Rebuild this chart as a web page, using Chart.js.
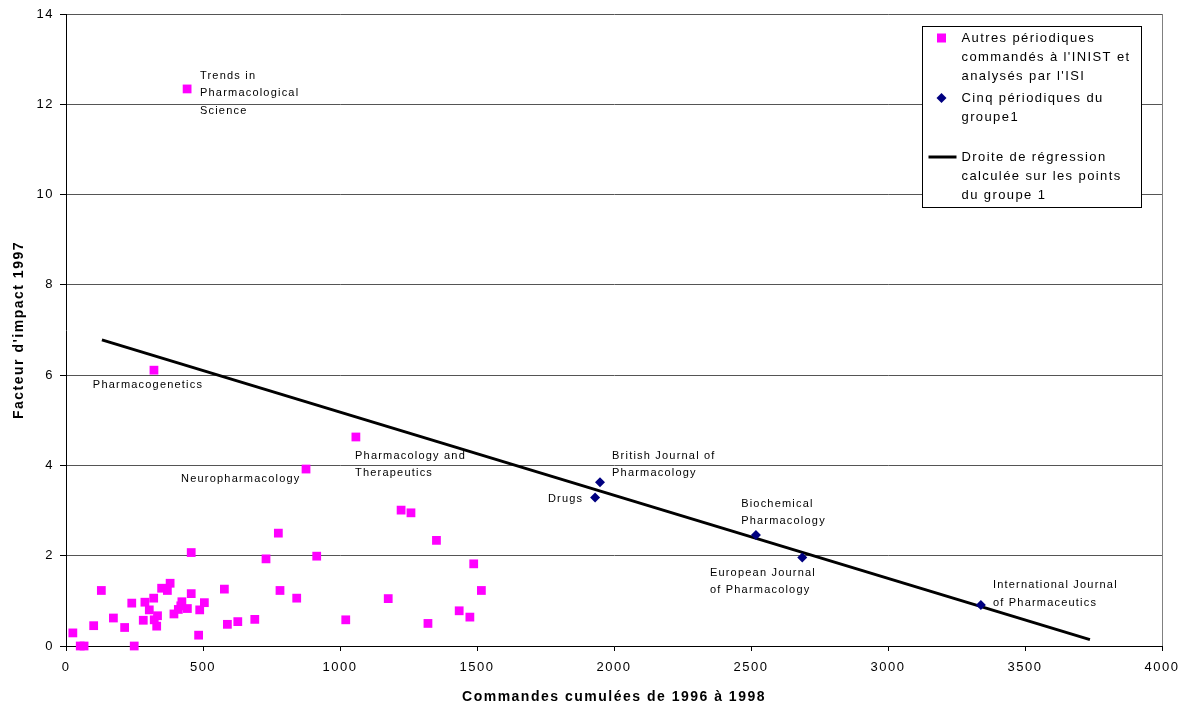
<!DOCTYPE html>
<html>
<head>
<meta charset="utf-8">
<script src="https://cdn.jsdelivr.net/npm/chart.js@4/dist/chart.umd.min.js"></script>
<style>
  html, body { margin: 0; padding: 0; background: #fff; }
  #wrap { width: 1186px; height: 708px; }
</style>
</head>
<body>
<div id="wrap"><canvas id="impactChart" width="1186" height="708"></canvas></div>
<script>
// Autres périodiques commandés à l'INIST et analysés par l'ISI
const autresX = [25, 52, 66, 101, 129, 173, 214, 240, 249, 282, 288, 304, 320, 322, 334, 331,
    349, 370, 380, 394, 410, 423, 419, 443, 457, 457, 488, 484, 505, 578, 589, 627, 689,
    730, 775, 781, 842, 915, 1021, 1176, 1352, 1321, 1435, 1474, 1488, 1516, 1223, 1259,
    321, 442, 1058, 876];
const autresY = [0.29, 0, 0, 0.45, 1.23, 0.62, 0.41, 0.95, 0, 0.57, 0.97, 0.80, 1.06, 0.58, 0.67, 0.44,
    1.28, 1.23, 1.39, 0.71, 0.81, 0.98, 0.89, 0.83, 2.07, 1.16, 0.80, 0.24, 0.96, 1.26, 0.48, 0.54, 0.59,
    1.93, 2.50, 1.23, 1.06, 1.99, 0.58, 1.05, 2.34, 0.50, 0.78, 0.64, 1.82, 1.23, 3.01, 2.95,
    6.11, 12.34, 4.63, 3.92];

// Cinq périodiques du groupe 1
const groupe1Names = ['Drugs', 'British Journal of Pharmacology', 'Biochemical Pharmacology',
    'European Journal of Pharmacology', 'International Journal of Pharmaceutics'];
const groupe1X = [1931, 1949, 2518, 2687, 3339];
const groupe1Y = [3.29, 3.63, 2.46, 1.96, 0.91];

// Droite de régression (groupe 1)
const regX = [131, 3737];
const regY = [6.78, 0.14];

// Text labels placed in data units (first line, left edge)
const pointLabels = [
    { lines: ['Trends in', 'Pharmacological', 'Science'], x: 489, y: 12.63 },
    { lines: ['Pharmacogenetics'], x: 98, y: 5.78 },
    { lines: ['Neuropharmacology'], x: 420, y: 3.71 },
    { lines: ['Pharmacology and', 'Therapeutics'], x: 1055, y: 4.21 },
    { lines: ['British Journal of', 'Pharmacology'], x: 1993, y: 4.21 },
    { lines: ['Drugs'], x: 1759, y: 3.26 },
    { lines: ['Biochemical', 'Pharmacology'], x: 2464, y: 3.15 },
    { lines: ['European Journal', 'of Pharmacology'], x: 2350, y: 1.62 },
    { lines: ['International Journal', 'of Pharmaceutics'], x: 3383, y: 1.35 }
];

const legendItems = [
    { marker: 'rect', color: '#ff00ff', lines: ['Autres périodiques', "commandés à l'INIST et", "analysés par l'ISI"] },
    { marker: 'diamond', color: '#000080', lines: ['Cinq périodiques du', 'groupe1'] },
    { marker: 'line', color: '#000', lines: ['Droite de régression', 'calculée sur les points', 'du groupe 1'] }
];

const FONT = '"Liberation Sans", Arial, sans-serif';
Chart.defaults.font.family = FONT;
Chart.defaults.color = '#000';

// letter spacing for axis text (Excel-like spaced look)
const spacingPlugin = {
    id: 'spacing',
    beforeDraw(chart) { chart.ctx.letterSpacing = '1.5px'; }
};

// point labels and the boxed legend
const overlayPlugin = {
    id: 'overlay',
    afterDatasetsDraw(chart) {
        const ctx = chart.ctx;
        const xs = chart.scales.x, ys = chart.scales.y;
        ctx.save();
        ctx.fillStyle = '#000';
        ctx.textAlign = 'left';
        ctx.textBaseline = 'middle';
        ctx.font = '11px ' + FONT;
        ctx.letterSpacing = '1.2px';
        pointLabels.forEach(lbl => {
            const px = xs.getPixelForValue(lbl.x);
            const py = ys.getPixelForValue(lbl.y);
            lbl.lines.forEach((t, i) => ctx.fillText(t, px, py + i * 17.5));
        });

        // legend box
        const area = chart.chartArea;
        const bx = area.right - 239.5, by = area.top + 12.5, bw = 219, bh = 181;
        ctx.fillStyle = '#fff';
        ctx.fillRect(bx, by, bw, bh);
        ctx.strokeStyle = '#000';
        ctx.lineWidth = 1;
        ctx.strokeRect(bx, by, bw, bh);

        ctx.font = '13px ' + FONT;
        ctx.letterSpacing = '1.4px';
        const rowY = [by + 11.5, by + 71.5, by + 130.5];
        legendItems.forEach((item, k) => {
            const y0 = rowY[k];
            const mx = bx + 19;
            ctx.fillStyle = item.color;
            ctx.strokeStyle = item.color;
            if (item.marker === 'rect') {
                ctx.fillRect(mx - 4.5, y0 - 4.5, 9, 9);
            } else if (item.marker === 'diamond') {
                ctx.beginPath();
                ctx.moveTo(mx, y0 - 5); ctx.lineTo(mx + 5, y0);
                ctx.lineTo(mx, y0 + 5); ctx.lineTo(mx - 5, y0);
                ctx.closePath(); ctx.fill();
            } else {
                ctx.lineWidth = 3;
                ctx.beginPath();
                ctx.moveTo(bx + 6, y0); ctx.lineTo(bx + 34, y0);
                ctx.stroke();
            }
            ctx.fillStyle = '#000';
            item.lines.forEach((t, i) => ctx.fillText(t, bx + 39, y0 + i * 19.3));
        });
        ctx.restore();
    }
};

const ctx = document.getElementById('impactChart').getContext('2d');
new Chart(ctx, {
    type: 'scatter',
    data: {
        datasets: [
            {
                label: 'Autres périodiques',
                data: autresX.map((x, i) => ({ x, y: autresY[i] })),
                pointStyle: 'rect',
                pointRadius: 6.2,
                pointHoverRadius: 6.2,
                backgroundColor: '#ff00ff',
                borderColor: '#ff00ff',
                borderWidth: 0,
                clip: false
            },
            {
                label: 'Cinq périodiques du groupe1',
                data: groupe1X.map((x, i) => ({ x, y: groupe1Y[i], name: groupe1Names[i] })),
                pointStyle: 'rectRot',
                pointRadius: 5,
                pointHoverRadius: 5,
                backgroundColor: '#000080',
                borderColor: '#000080',
                borderWidth: 0,
                clip: false
            },
            {
                type: 'line',
                label: 'Droite de régression',
                data: regX.map((x, i) => ({ x, y: regY[i] })),
                borderColor: '#000',
                borderWidth: 3,
                pointRadius: 0,
                fill: false,
                tension: 0,
                clip: false
            }
        ]
    },
    options: {
        responsive: false,
        animation: false,
        devicePixelRatio: 1,
        layout: { padding: { top: 14, right: 24, left: 0, bottom: 0 } },
        plugins: {
            legend: { display: false },
            tooltip: { enabled: false }
        },
        scales: {
            x: {
                type: 'linear',
                min: 0,
                max: 4000,
                ticks: { stepSize: 500, font: { size: 13 }, padding: 9, maxRotation: 0, callback: v => String(v) },
                grid: {
                    color: c => (c.tick && c.tick.value === 4000 ? '#808080' : 'rgba(0,0,0,0)'),
                    tickColor: '#000',
                    tickLength: 5
                },
                border: { color: '#000', width: 1 },
                title: {
                    display: true,
                    text: 'Commandes cumulées de 1996 à 1998',
                    font: { size: 14, weight: 'bold' },
                    padding: { top: 0, bottom: 2 }
                },
                afterFit: s => { s.height = 62; }
            },
            y: {
                min: 0,
                max: 14,
                ticks: { stepSize: 2, font: { size: 13 }, padding: 6 },
                grid: { color: '#555', tickColor: '#000', tickLength: 6 },
                border: { color: '#000', width: 1 },
                title: {
                    display: true,
                    text: "Facteur d'impact 1997",
                    font: { size: 14, weight: 'bold' },
                    padding: { top: 11, bottom: 0 }
                },
                afterFit: s => { s.width = 66; }
            }
        }
    },
    plugins: [spacingPlugin, overlayPlugin]
});
</script>
</body>
</html>
